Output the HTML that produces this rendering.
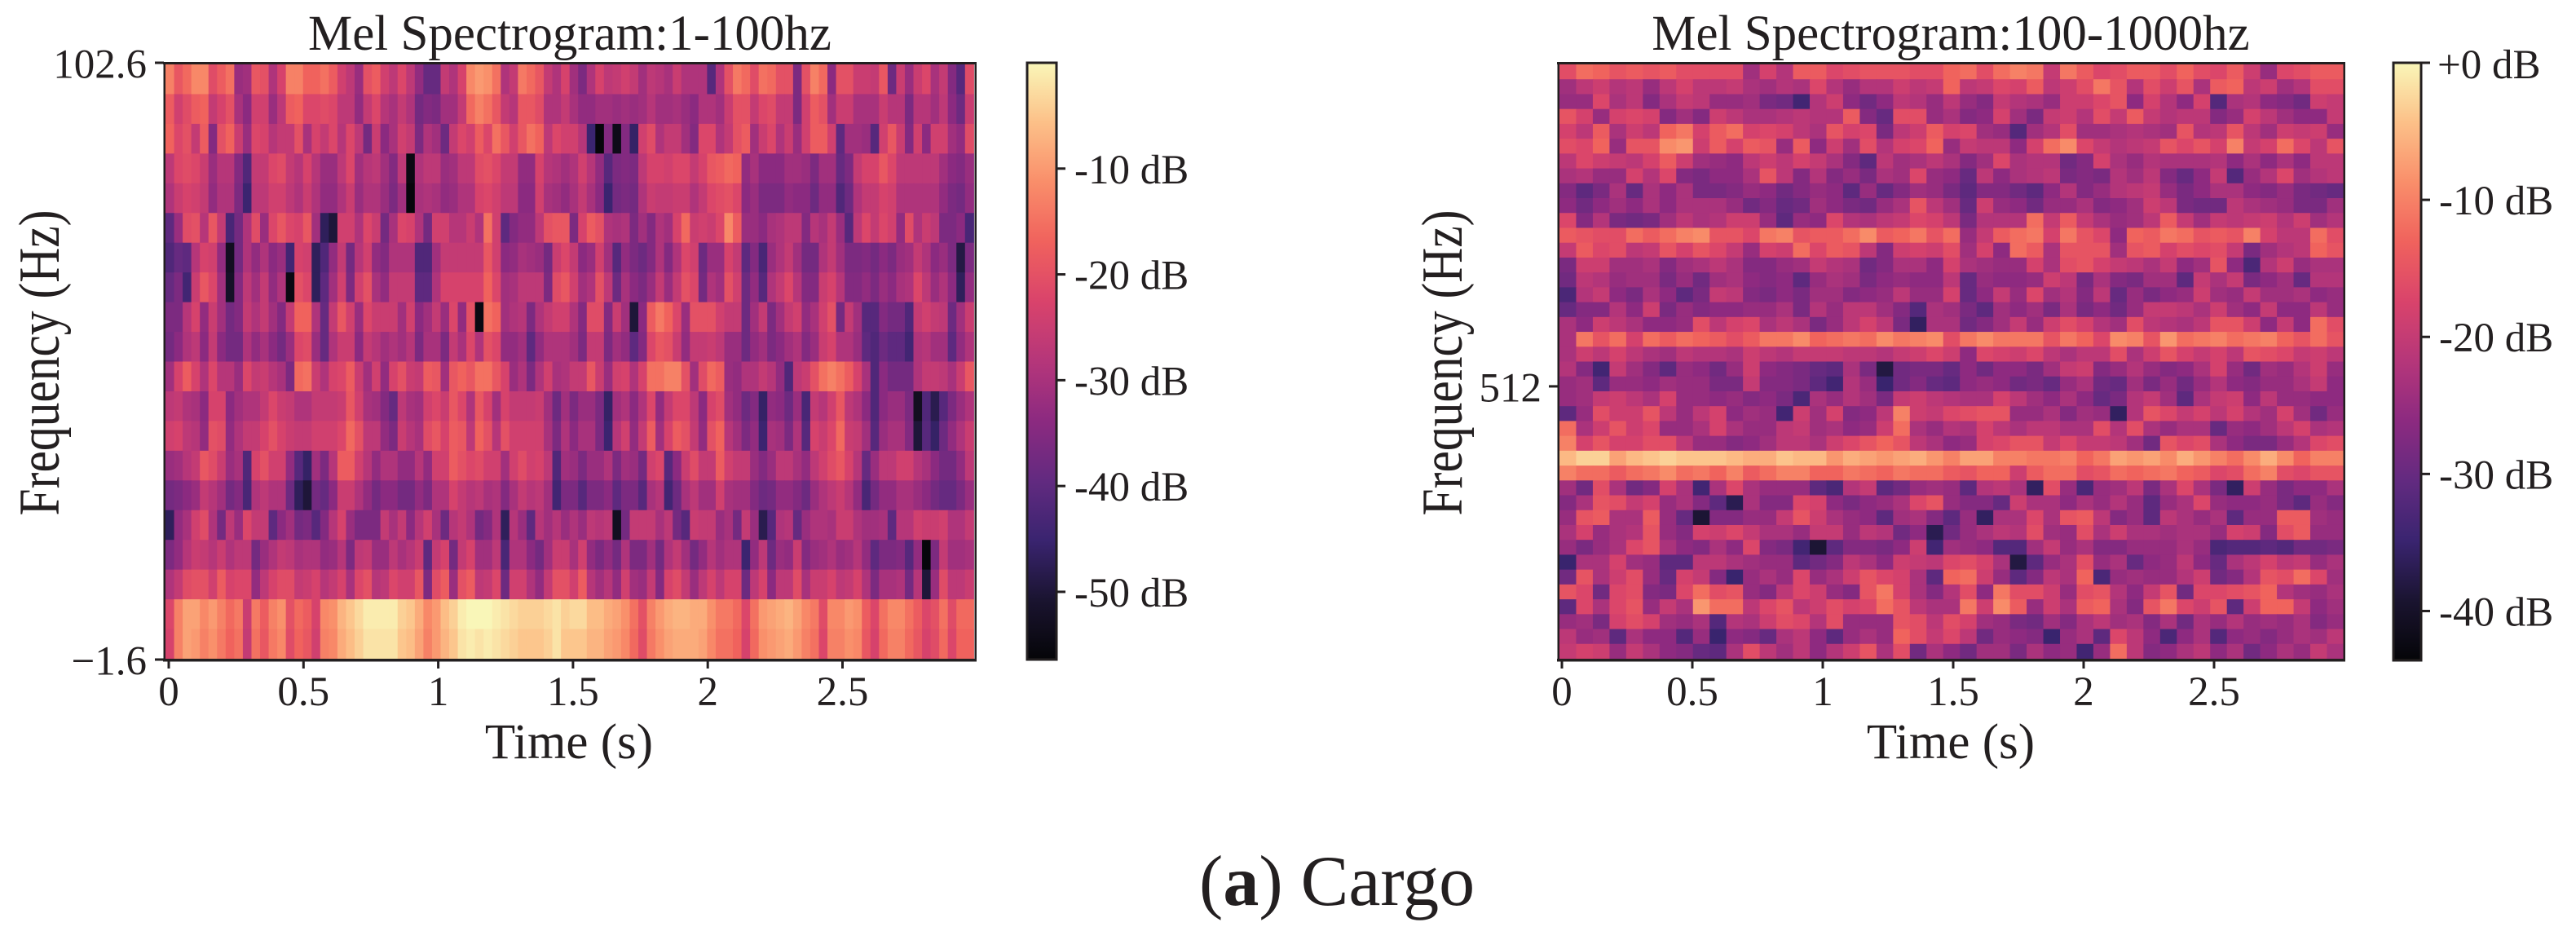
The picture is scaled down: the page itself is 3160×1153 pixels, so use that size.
<!DOCTYPE html>
<html lang="en">
<head>
<meta charset="utf-8">
<title>Mel Spectrogram: Cargo</title>
<style>
html,body{margin:0;padding:0;background:#fff;width:3160px;height:1153px;overflow:hidden}
svg{display:block}
text{font-family:"Liberation Serif","Times New Roman",serif;fill:#231f20}
</style>
</head>
<body>
<svg id="figure" xmlns="http://www.w3.org/2000/svg" width="3160" height="1153" viewBox="0 0 3160 1153">
  <defs>
    <linearGradient id="cbar-gradient" x1="0" y1="1" x2="0" y2="0"></linearGradient>
  </defs>
  <rect x="0" y="0" width="3160" height="1153" fill="#fff"/>
  <g id="low-cells"></g>
  <g id="high-cells"></g>
  <g id="overlay"></g>
  <text x="699" y="61" font-size="61" text-anchor="middle">Mel Spectrogram:1-100hz</text>
  <text x="2393" y="61" font-size="61" text-anchor="middle">Mel Spectrogram:100-1000hz</text>
  <text x="698" y="930" font-size="61" text-anchor="middle">Time (s)</text>
  <text x="2393" y="930" font-size="61" text-anchor="middle">Time (s)</text>
  <text transform="translate(72,445) rotate(-90) scale(1,1.2)" font-size="59.5" text-anchor="middle">Frequency (Hz)</text>
  <text transform="translate(1793,445) rotate(-90) scale(1,1.2)" font-size="59.5" text-anchor="middle">Frequency (Hz)</text>
  <text x="1471" y="1110" font-size="88">(<tspan font-weight="bold">a</tspan>) Cargo</text>
</svg>
<script>
const timeTicks = [0, 0.5, 1, 1.5, 2, 2.5];
const timeTickLabels = ['0', '0.5', '1', '1.5', '2', '2.5'];
const lowFreqTicks = [102.6, -1.6];
const lowFreqTickLabels = ['102.6', '\u22121.6'];
const highFreqTicks = [512];
const highFreqTickLabels = ['512'];
const lowBarTicks = [-10, -20, -30, -40, -50];
const lowBarTickLabels = ['-10 dB', '-20 dB', '-30 dB', '-40 dB', '-50 dB'];
const highBarTicks = [0, -10, -20, -30, -40];
const highBarTickLabels = ['+0 dB', '-10 dB', '-20 dB', '-30 dB', '-40 dB'];
const lowDbRange = [-56.4, 0];
const highDbRange = [-43.6, 0];
const lowFreqRange = [-1.6, 102.6];
const highFreqRange = [100, 1000];
const lowFrameSeconds = 0.0319;
const highFrameSeconds = 0.06396;
const lowBandCalibrationDb = 0;
const highBandCalibrationDb = -1;

const lowBandDb = [
[-13,-19,-16,-12,-12,-21,-18,-15,-32,-31,-19,-20,-29,-23,-13,-13,-17,-17,-15,-18,-24,-27,-32,-20,-18,-24,-27,-22,-27,-33,-39,-39,-26,-29,-23,-12,-10,-11,-15,-29,-26,-14,-16,-19,-26,-29,-23,-31,-36,-29,-23,-27,-26,-24,-26,-31,-27,-28,-30,-25,-29,-29,-29,-41,-29,-20,-14,-16,-21,-15,-16,-20,-20,-36,-20,-13,-16,-34,-20,-20,-25,-25,-26,-19,-38,-25,-32,-25,-22,-30,-26,-35,-41,-21],
[-18,-24,-21,-18,-17,-26,-23,-20,-30,-34,-24,-24,-32,-27,-18,-17,-22,-22,-21,-22,-27,-27,-33,-26,-22,-28,-30,-26,-29,-37,-35,-36,-31,-31,-26,-16,-13,-15,-19,-26,-28,-19,-19,-21,-29,-29,-26,-30,-33,-33,-31,-31,-32,-31,-32,-31,-28,-31,-31,-30,-32,-34,-29,-29,-31,-25,-20,-20,-26,-22,-21,-26,-26,-36,-24,-18,-20,-31,-25,-25,-30,-30,-30,-25,-28,-28,-36,-28,-28,-31,-27,-34,-38,-25],
[-17,-22,-20,-26,-18,-35,-20,-17,-25,-32,-22,-23,-28,-26,-26,-20,-30,-23,-26,-22,-28,-22,-27,-37,-25,-34,-30,-24,-26,-36,-29,-31,-38,-26,-22,-24,-18,-22,-15,-19,-24,-19,-15,-17,-27,-22,-24,-24,-28,-45,-56,-35,-54,-35,-46,-24,-21,-29,-26,-26,-31,-35,-22,-22,-29,-26,-20,-18,-31,-25,-22,-29,-25,-32,-24,-18,-18,-24,-40,-31,-31,-32,-41,-24,-19,-25,-35,-24,-34,-24,-24,-31,-33,-21],
[-27,-22,-21,-22,-25,-32,-28,-28,-35,-42,-26,-26,-22,-21,-26,-28,-23,-28,-32,-32,-27,-22,-31,-28,-27,-31,-35,-27,-55,-29,-27,-27,-32,-31,-27,-27,-21,-20,-22,-26,-26,-33,-33,-23,-28,-29,-31,-29,-24,-28,-33,-41,-36,-35,-36,-27,-23,-23,-24,-22,-22,-26,-23,-19,-18,-16,-17,-33,-30,-34,-34,-34,-31,-31,-32,-36,-31,-31,-39,-36,-26,-23,-23,-19,-22,-27,-27,-27,-27,-27,-31,-34,-35,-32],
[-29,-25,-23,-24,-26,-33,-29,-29,-36,-45,-27,-27,-24,-24,-27,-29,-25,-29,-33,-33,-29,-25,-32,-29,-29,-32,-36,-31,-56,-30,-29,-30,-33,-32,-29,-29,-23,-22,-24,-27,-27,-34,-34,-24,-30,-31,-33,-30,-26,-30,-34,-45,-37,-36,-37,-29,-25,-26,-26,-25,-25,-29,-26,-22,-21,-20,-22,-34,-32,-36,-36,-36,-33,-34,-34,-38,-33,-33,-42,-38,-29,-26,-26,-23,-24,-29,-29,-29,-29,-29,-33,-36,-37,-33],
[-40,-32,-21,-20,-28,-19,-26,-43,-37,-29,-21,-32,-22,-19,-22,-23,-19,-31,-47,-50,-24,-24,-29,-22,-25,-37,-30,-22,-23,-29,-37,-24,-24,-28,-28,-25,-29,-15,-24,-40,-35,-33,-33,-27,-20,-19,-19,-36,-23,-18,-20,-29,-30,-29,-36,-31,-35,-29,-31,-23,-16,-25,-24,-25,-22,-12,-18,-32,-32,-34,-30,-29,-27,-27,-35,-28,-30,-26,-32,-41,-27,-22,-26,-22,-24,-33,-21,-29,-25,-27,-36,-36,-34,-43],
[-42,-39,-40,-28,-23,-24,-33,-53,-37,-29,-33,-29,-34,-32,-44,-23,-24,-47,-42,-33,-26,-37,-28,-24,-33,-35,-29,-29,-29,-42,-42,-31,-26,-26,-26,-26,-26,-19,-24,-34,-33,-30,-31,-32,-37,-25,-22,-26,-34,-32,-24,-31,-41,-33,-36,-38,-35,-29,-35,-29,-22,-24,-38,-32,-32,-23,-26,-40,-35,-43,-32,-29,-26,-31,-37,-37,-29,-26,-31,-36,-36,-35,-37,-34,-36,-32,-31,-26,-29,-34,-32,-36,-49,-36],
[-39,-36,-44,-25,-19,-22,-31,-52,-35,-27,-31,-26,-33,-29,-55,-20,-22,-47,-40,-31,-24,-36,-24,-20,-30,-33,-26,-26,-26,-40,-40,-29,-23,-23,-23,-23,-23,-17,-22,-31,-30,-27,-27,-27,-36,-21,-19,-24,-31,-29,-20,-27,-38,-30,-34,-36,-32,-26,-32,-26,-20,-22,-37,-29,-31,-20,-24,-38,-33,-41,-29,-26,-22,-28,-35,-35,-25,-23,-28,-35,-35,-33,-36,-32,-34,-30,-29,-22,-27,-32,-29,-34,-47,-33],
[-36,-36,-28,-23,-33,-25,-31,-37,-35,-26,-29,-26,-31,-35,-26,-17,-17,-29,-39,-26,-19,-24,-32,-22,-25,-25,-25,-31,-24,-34,-31,-26,-32,-22,-33,-20,-55,-15,-17,-31,-29,-28,-36,-29,-26,-24,-24,-29,-35,-21,-21,-35,-25,-31,-50,-34,-18,-14,-17,-22,-32,-20,-20,-20,-24,-26,-26,-38,-31,-26,-36,-31,-26,-24,-33,-30,-24,-20,-37,-26,-31,-41,-41,-35,-37,-37,-42,-26,-24,-26,-27,-38,-31,-25],
[-37,-34,-29,-27,-34,-26,-34,-37,-37,-29,-33,-30,-34,-37,-32,-22,-21,-32,-39,-29,-25,-25,-34,-26,-28,-31,-29,-31,-28,-36,-30,-30,-36,-26,-30,-22,-29,-20,-22,-33,-33,-31,-40,-33,-29,-29,-29,-31,-36,-26,-26,-36,-31,-33,-40,-35,-22,-19,-20,-25,-33,-26,-26,-25,-27,-32,-32,-38,-33,-31,-36,-34,-31,-29,-35,-32,-25,-23,-29,-29,-32,-40,-42,-38,-40,-40,-44,-29,-28,-31,-31,-40,-33,-29],
[-31,-23,-18,-23,-29,-22,-28,-28,-32,-22,-26,-25,-28,-30,-36,-16,-15,-25,-29,-23,-22,-18,-25,-31,-24,-33,-23,-20,-25,-26,-18,-19,-31,-19,-17,-19,-15,-15,-19,-23,-32,-29,-36,-29,-24,-30,-29,-26,-26,-19,-25,-32,-24,-23,-29,-23,-15,-15,-13,-13,-20,-31,-21,-16,-18,-32,-33,-29,-29,-26,-28,-33,-42,-27,-25,-20,-15,-13,-15,-18,-23,-30,-42,-34,-37,-37,-37,-29,-26,-26,-27,-30,-25,-19],
[-27,-26,-29,-30,-34,-23,-23,-34,-31,-29,-29,-26,-22,-25,-26,-29,-29,-26,-26,-26,-25,-19,-24,-30,-31,-35,-39,-27,-30,-31,-24,-22,-25,-19,-22,-29,-19,-23,-31,-23,-26,-26,-26,-25,-31,-38,-31,-36,-32,-32,-36,-46,-31,-29,-34,-29,-22,-33,-26,-22,-22,-27,-34,-23,-21,-31,-33,-38,-35,-46,-33,-34,-38,-32,-43,-26,-28,-24,-19,-27,-29,-34,-42,-34,-32,-32,-36,-53,-42,-48,-41,-36,-32,-29],
[-24,-23,-27,-28,-33,-20,-21,-33,-29,-26,-26,-23,-20,-23,-25,-26,-26,-24,-24,-24,-22,-16,-20,-27,-27,-33,-36,-25,-28,-30,-21,-19,-23,-18,-19,-27,-17,-20,-28,-20,-24,-24,-24,-24,-30,-36,-29,-34,-30,-30,-36,-45,-28,-24,-33,-26,-18,-31,-23,-18,-20,-26,-33,-20,-17,-28,-31,-36,-33,-45,-30,-31,-36,-29,-41,-23,-25,-22,-16,-25,-26,-31,-41,-32,-30,-30,-35,-50,-41,-46,-38,-33,-29,-25],
[-32,-31,-28,-26,-19,-21,-25,-32,-30,-42,-23,-20,-24,-24,-33,-41,-46,-31,-36,-28,-18,-18,-24,-28,-33,-29,-29,-33,-33,-28,-33,-24,-24,-18,-20,-22,-21,-24,-24,-31,-24,-21,-24,-23,-27,-42,-31,-32,-36,-32,-32,-29,-36,-31,-32,-37,-24,-22,-41,-34,-25,-21,-26,-26,-18,-24,-26,-26,-32,-35,-32,-27,-27,-30,-33,-27,-24,-21,-19,-23,-28,-39,-32,-27,-27,-24,-24,-28,-30,-34,-37,-37,-33,-27],
[-37,-36,-34,-32,-26,-28,-31,-37,-35,-43,-29,-27,-29,-29,-38,-47,-50,-37,-39,-34,-25,-25,-29,-33,-37,-34,-34,-37,-37,-33,-36,-29,-29,-23,-26,-28,-27,-30,-29,-35,-30,-26,-28,-27,-31,-44,-36,-36,-41,-36,-36,-34,-40,-36,-36,-41,-30,-28,-44,-38,-30,-27,-31,-31,-24,-30,-31,-31,-35,-38,-37,-33,-33,-35,-38,-32,-29,-27,-25,-28,-33,-43,-37,-33,-33,-30,-30,-32,-34,-37,-39,-39,-36,-32],
[-47,-33,-30,-24,-21,-29,-37,-27,-32,-22,-26,-26,-40,-34,-31,-37,-36,-41,-35,-28,-23,-32,-36,-36,-36,-26,-30,-26,-34,-28,-24,-30,-38,-28,-26,-29,-37,-35,-29,-47,-28,-32,-40,-28,-31,-28,-32,-29,-32,-27,-28,-27,-53,-37,-26,-26,-26,-30,-27,-37,-41,-25,-26,-26,-32,-30,-37,-26,-32,-48,-41,-29,-28,-39,-32,-29,-29,-30,-25,-25,-29,-31,-31,-30,-40,-28,-28,-24,-25,-25,-24,-29,-29,-26],
[-36,-33,-28,-25,-26,-28,-25,-29,-27,-27,-37,-32,-29,-26,-27,-30,-29,-29,-33,-32,-28,-36,-27,-26,-32,-32,-27,-30,-28,-25,-40,-26,-23,-37,-26,-23,-31,-31,-27,-43,-29,-29,-34,-37,-31,-25,-25,-30,-24,-33,-36,-33,-37,-29,-36,-36,-31,-37,-29,-26,-31,-37,-33,-28,-31,-29,-29,-45,-33,-27,-38,-32,-33,-25,-35,-32,-31,-29,-32,-31,-28,-33,-40,-36,-36,-35,-41,-33,-56,-36,-26,-31,-31,-30],
[-29,-26,-21,-20,-20,-24,-18,-23,-22,-22,-33,-27,-23,-21,-21,-26,-25,-23,-28,-26,-23,-30,-22,-20,-28,-27,-22,-24,-24,-19,-36,-21,-18,-32,-20,-18,-27,-26,-22,-38,-24,-24,-29,-33,-26,-20,-20,-24,-18,-28,-31,-28,-33,-24,-31,-32,-26,-35,-23,-21,-26,-32,-27,-23,-27,-23,-23,-38,-27,-23,-34,-27,-27,-21,-30,-25,-25,-23,-27,-26,-23,-29,-36,-30,-30,-29,-37,-28,-50,-32,-21,-27,-27,-25],
[-22,-13,-9,-9,-12,-10,-13,-16,-14,-25,-14,-18,-13,-11,-20,-16,-18,-23,-12,-11,-7,-5,-3,-1,-1,-1,-1,-4,-5,-8,-12,-10,-6,-4,-1,0,0,0,-1,-2,-3,-4,-4,-4,-3,-2,-4,-3,-3,-6,-6,-8,-9,-11,-15,-20,-13,-10,-8,-7,-7,-8,-8,-11,-14,-14,-16,-22,-15,-10,-9,-8,-7,-9,-12,-14,-21,-12,-12,-10,-11,-18,-22,-15,-12,-12,-15,-18,-22,-20,-15,-21,-16,-16],
[-23,-13,-9,-10,-13,-11,-14,-17,-15,-26,-15,-19,-14,-12,-21,-17,-19,-24,-13,-12,-8,-6,-4,-2,-2,-2,-2,-5,-6,-9,-13,-10,-7,-5,-2,-1,-2,-1,-2,-3,-4,-5,-5,-5,-4,-2,-5,-5,-5,-7,-7,-9,-10,-12,-16,-21,-14,-11,-9,-8,-8,-8,-9,-12,-15,-15,-17,-23,-16,-11,-10,-9,-8,-10,-13,-15,-22,-13,-13,-11,-12,-19,-23,-16,-13,-13,-16,-19,-23,-21,-16,-22,-17,-17]
];

const highBandDb = [
[-15,-11,-12,-14,-13,-14,-13,-15,-15,-15,-15,-23,-17,-21,-13,-13,-16,-15,-14,-14,-14,-15,-15,-12,-11,-15,-11,-9,-10,-19,-10,-13,-16,-15,-13,-13,-15,-12,-15,-16,-13,-18,-24,-16,-15,-13,-13],
[-23,-20,-18,-21,-20,-24,-20,-17,-20,-20,-19,-22,-23,-21,-22,-16,-21,-24,-21,-21,-18,-20,-19,-12,-20,-19,-16,-17,-13,-20,-18,-15,-10,-14,-21,-15,-18,-14,-22,-13,-12,-20,-18,-23,-21,-15,-15],
[-24,-24,-16,-22,-20,-26,-22,-19,-20,-24,-24,-23,-27,-28,-33,-21,-18,-25,-28,-25,-20,-21,-24,-20,-24,-26,-19,-21,-22,-24,-18,-18,-16,-14,-25,-17,-21,-25,-17,-31,-22,-21,-25,-26,-28,-18,-19],
[-14,-17,-24,-17,-16,-17,-26,-23,-26,-18,-20,-22,-22,-21,-20,-21,-21,-13,-26,-29,-15,-15,-24,-22,-26,-25,-17,-23,-27,-19,-18,-21,-15,-19,-13,-19,-21,-20,-20,-26,-24,-17,-20,-23,-25,-25,-19],
[-17,-20,-13,-22,-18,-20,-12,-10,-17,-13,-11,-17,-16,-17,-20,-22,-14,-17,-16,-27,-20,-18,-13,-17,-16,-23,-24,-31,-23,-21,-15,-23,-23,-22,-21,-22,-23,-14,-21,-20,-14,-20,-23,-18,-19,-18,-24],
[-15,-16,-12,-24,-14,-14,-8,-7,-18,-13,-17,-13,-14,-24,-13,-25,-18,-23,-15,-21,-17,-16,-12,-24,-19,-20,-20,-25,-17,-11,-8,-16,-19,-21,-20,-19,-14,-16,-14,-17,-9,-19,-17,-11,-16,-20,-14],
[-20,-16,-18,-19,-20,-17,-13,-18,-23,-24,-25,-20,-18,-20,-17,-19,-22,-26,-30,-20,-23,-22,-20,-22,-26,-23,-16,-22,-21,-21,-28,-26,-17,-22,-24,-21,-22,-22,-22,-21,-25,-22,-25,-22,-25,-20,-20],
[-22,-21,-24,-24,-17,-21,-16,-26,-27,-25,-25,-22,-14,-20,-26,-21,-26,-24,-27,-22,-23,-16,-24,-25,-29,-20,-25,-22,-21,-20,-27,-26,-27,-21,-23,-20,-26,-29,-25,-19,-31,-24,-21,-16,-23,-21,-20],
[-26,-30,-27,-22,-29,-22,-25,-22,-27,-27,-26,-24,-25,-28,-26,-24,-25,-30,-24,-29,-26,-23,-24,-27,-30,-26,-26,-28,-30,-25,-21,-26,-24,-21,-20,-19,-24,-27,-25,-22,-22,-25,-26,-24,-27,-28,-29],
[-25,-28,-25,-23,-25,-22,-25,-22,-22,-22,-24,-28,-26,-29,-28,-23,-25,-27,-28,-24,-22,-14,-20,-23,-29,-18,-24,-25,-28,-24,-24,-22,-26,-25,-23,-18,-20,-27,-28,-28,-20,-22,-23,-24,-27,-27,-23],
[-16,-26,-21,-27,-28,-27,-23,-20,-22,-21,-18,-18,-24,-30,-24,-25,-16,-21,-22,-20,-19,-16,-17,-20,-27,-21,-21,-21,-11,-19,-13,-19,-22,-24,-23,-20,-13,-19,-23,-19,-20,-19,-18,-21,-18,-23,-21],
[-13,-14,-15,-15,-11,-13,-11,-9,-8,-14,-14,-16,-10,-9,-14,-13,-13,-11,-8,-13,-12,-10,-14,-11,-24,-19,-13,-11,-10,-17,-10,-14,-16,-25,-12,-13,-10,-11,-14,-13,-14,-9,-17,-20,-20,-11,-15],
[-19,-13,-16,-15,-20,-19,-14,-17,-14,-16,-19,-24,-17,-18,-11,-16,-13,-14,-20,-26,-18,-17,-18,-15,-23,-17,-25,-11,-13,-22,-14,-14,-14,-23,-14,-13,-17,-15,-16,-15,-19,-27,-23,-21,-20,-12,-14],
[-27,-18,-18,-23,-23,-22,-26,-23,-22,-20,-22,-26,-26,-24,-23,-19,-21,-22,-28,-26,-22,-22,-25,-17,-22,-23,-24,-24,-17,-22,-15,-14,-17,-19,-20,-22,-19,-25,-23,-14,-25,-32,-21,-18,-24,-22,-22],
[-28,-20,-21,-24,-23,-23,-27,-24,-28,-23,-22,-25,-26,-25,-30,-24,-22,-23,-27,-25,-24,-25,-25,-20,-29,-24,-25,-25,-24,-18,-20,-27,-22,-26,-27,-23,-23,-30,-19,-22,-19,-27,-25,-23,-29,-21,-21],
[-32,-21,-19,-25,-27,-22,-25,-30,-27,-19,-20,-26,-27,-25,-27,-23,-23,-26,-25,-24,-20,-24,-24,-17,-29,-25,-19,-24,-16,-23,-21,-26,-20,-29,-24,-27,-25,-24,-18,-23,-24,-19,-23,-23,-22,-25,-24],
[-29,-26,-26,-21,-25,-18,-27,-24,-26,-25,-25,-24,-24,-22,-27,-21,-24,-20,-20,-23,-26,-31,-22,-23,-27,-30,-23,-25,-23,-27,-22,-27,-25,-28,-24,-19,-19,-20,-22,-18,-23,-25,-19,-25,-25,-20,-24],
[-22,-25,-18,-20,-22,-25,-25,-24,-15,-20,-17,-16,-22,-20,-22,-27,-24,-20,-17,-20,-27,-35,-22,-22,-28,-26,-23,-19,-24,-18,-15,-17,-21,-23,-15,-20,-21,-22,-20,-14,-14,-18,-25,-19,-25,-11,-15],
[-22,-10,-14,-11,-17,-11,-13,-11,-12,-13,-15,-13,-10,-10,-8,-12,-11,-10,-11,-8,-10,-9,-8,-15,-10,-8,-10,-10,-10,-14,-10,-12,-16,-8,-9,-14,-7,-11,-10,-9,-11,-10,-9,-12,-14,-11,-14],
[-22,-18,-20,-17,-20,-22,-23,-20,-21,-21,-22,-18,-20,-21,-19,-19,-19,-20,-20,-21,-19,-18,-16,-18,-25,-16,-17,-18,-16,-20,-22,-20,-20,-15,-22,-18,-14,-17,-19,-17,-20,-14,-15,-16,-19,-18,-20],
[-21,-26,-33,-19,-23,-26,-30,-24,-25,-28,-24,-18,-25,-26,-27,-29,-30,-22,-27,-37,-28,-27,-27,-29,-25,-28,-25,-25,-27,-23,-19,-18,-26,-24,-21,-24,-26,-25,-22,-17,-24,-28,-23,-24,-21,-18,-24],
[-24,-23,-30,-24,-24,-25,-23,-24,-24,-27,-27,-19,-26,-26,-27,-30,-33,-21,-24,-34,-28,-26,-29,-30,-25,-24,-25,-28,-27,-29,-24,-22,-28,-29,-23,-27,-24,-28,-24,-21,-25,-26,-24,-24,-22,-19,-25],
[-24,-23,-19,-18,-20,-22,-17,-24,-24,-25,-24,-26,-25,-27,-32,-22,-24,-21,-23,-27,-19,-18,-20,-21,-22,-22,-17,-20,-23,-25,-22,-25,-29,-27,-21,-19,-23,-30,-22,-19,-18,-25,-20,-24,-24,-25,-25],
[-30,-24,-15,-18,-18,-14,-20,-24,-20,-17,-25,-23,-24,-33,-18,-23,-17,-26,-25,-20,-9,-18,-19,-16,-15,-14,-14,-24,-24,-22,-26,-23,-24,-35,-21,-14,-16,-19,-17,-20,-17,-21,-23,-17,-23,-28,-24],
[-11,-22,-18,-14,-18,-16,-24,-24,-22,-17,-22,-24,-24,-20,-19,-23,-22,-25,-24,-18,-11,-22,-24,-21,-22,-17,-20,-22,-20,-20,-22,-22,-15,-21,-15,-22,-24,-22,-22,-29,-24,-25,-23,-20,-17,-22,-21],
[-9,-17,-14,-17,-17,-15,-15,-20,-24,-24,-26,-25,-23,-20,-20,-22,-18,-16,-14,-12,-14,-20,-22,-25,-24,-17,-16,-14,-14,-19,-16,-19,-19,-20,-23,-28,-14,-16,-15,-22,-25,-27,-27,-24,-21,-16,-15],
[-4,-2,-2,-6,-4,-3,-2,-3,-3,-3,-4,-5,-5,-3,-4,-4,-7,-5,-6,-7,-6,-5,-7,-9,-6,-6,-9,-9,-10,-10,-9,-12,-10,-6,-7,-6,-8,-5,-7,-9,-11,-8,-5,-8,-12,-9,-9],
[-9,-11,-11,-13,-11,-10,-8,-11,-10,-12,-9,-13,-11,-9,-9,-12,-12,-10,-11,-12,-10,-11,-11,-13,-14,-12,-12,-18,-13,-11,-11,-15,-14,-11,-12,-11,-10,-12,-13,-16,-15,-11,-9,-15,-16,-14,-14],
[-23,-28,-15,-22,-28,-26,-17,-22,-33,-22,-16,-22,-24,-24,-24,-30,-32,-21,-19,-30,-28,-24,-23,-24,-30,-21,-20,-22,-35,-15,-24,-32,-24,-23,-20,-27,-22,-16,-22,-27,-35,-18,-24,-27,-25,-25,-22],
[-26,-22,-14,-15,-19,-17,-24,-22,-26,-30,-36,-22,-26,-26,-16,-17,-25,-27,-25,-24,-22,-16,-14,-24,-26,-26,-29,-18,-22,-22,-25,-22,-24,-21,-24,-30,-24,-22,-16,-24,-25,-25,-24,-27,-30,-24,-26],
[-24,-14,-13,-22,-22,-13,-24,-29,-38,-26,-26,-24,-24,-19,-14,-18,-22,-24,-25,-30,-23,-22,-26,-30,-24,-35,-22,-22,-16,-22,-14,-13,-20,-26,-24,-30,-20,-22,-24,-22,-30,-24,-24,-13,-13,-23,-24],
[-22,-17,-24,-22,-21,-14,-24,-26,-17,-18,-16,-19,-22,-22,-24,-19,-19,-24,-20,-21,-28,-25,-36,-28,-24,-22,-20,-21,-15,-23,-24,-15,-22,-18,-22,-22,-23,-22,-22,-24,-17,-18,-26,-15,-13,-24,-24],
[-24,-27,-24,-22,-16,-14,-22,-25,-26,-22,-25,-16,-26,-27,-33,-38,-30,-26,-26,-27,-25,-18,-33,-23,-24,-25,-31,-31,-23,-19,-24,-22,-26,-26,-24,-24,-24,-22,-24,-32,-31,-31,-30,-31,-28,-28,-27],
[-34,-22,-22,-17,-23,-24,-30,-30,-20,-20,-22,-23,-24,-24,-30,-28,-26,-20,-22,-25,-18,-19,-20,-16,-15,-17,-22,-37,-30,-24,-22,-15,-24,-22,-29,-25,-24,-20,-25,-29,-22,-20,-17,-20,-19,-24,-22],
[-28,-14,-22,-18,-15,-24,-29,-17,-19,-26,-34,-24,-22,-24,-16,-24,-22,-18,-14,-16,-17,-22,-30,-12,-11,-18,-24,-30,-26,-20,-22,-12,-32,-24,-23,-24,-24,-21,-18,-28,-26,-21,-14,-15,-11,-16,-23],
[-14,-16,-28,-16,-15,-26,-27,-16,-11,-15,-14,-24,-26,-20,-16,-18,-24,-26,-14,-10,-17,-22,-26,-21,-15,-25,-10,-15,-15,-18,-24,-15,-14,-21,-25,-19,-14,-28,-16,-16,-15,-14,-12,-21,-23,-24,-22],
[-30,-16,-22,-16,-14,-24,-19,-22,-7,-11,-11,-20,-16,-14,-20,-18,-15,-17,-16,-11,-14,-20,-22,-22,-10,-18,-8,-13,-24,-18,-22,-13,-12,-22,-26,-14,-10,-16,-18,-14,-30,-18,-12,-12,-19,-25,-23],
[-24,-23,-27,-17,-15,-17,-23,-24,-22,-31,-21,-22,-18,-15,-16,-21,-15,-24,-24,-24,-14,-15,-20,-15,-17,-23,-24,-27,-28,-23,-26,-22,-20,-23,-22,-26,-22,-28,-22,-24,-21,-24,-23,-24,-22,-26,-24],
[-20,-24,-23,-30,-22,-25,-25,-31,-24,-34,-25,-26,-29,-22,-20,-25,-30,-24,-22,-24,-12,-15,-19,-16,-20,-28,-24,-25,-26,-34,-24,-22,-30,-16,-20,-25,-32,-25,-22,-31,-25,-24,-26,-24,-22,-23,-20],
[-19,-17,-18,-24,-19,-22,-25,-26,-29,-30,-22,-15,-20,-23,-20,-25,-21,-18,-14,-22,-15,-28,-22,-25,-28,-23,-23,-27,-22,-25,-24,-33,-24,-11,-20,-26,-25,-22,-20,-25,-22,-28,-25,-22,-24,-19,-22]
];

const SVG_NS = 'http://www.w3.org/2000/svg';
const INK = '#231f20';
const colormapStops = ['#050508', '#1a1430', '#3a2470', '#622a80', '#8c2a80', '#b5367a', '#d9436b', '#f0625d', '#f98e6a', '#fcc088', '#f9f6b8'];

function hexChannel(hex, i) {
  return parseInt(hex.substr(1 + i * 2, 2), 16);
}
function colormap(t) {
  const clamped = Math.max(0, Math.min(1, t));
  const scaled = clamped * (colormapStops.length - 1);
  const i = Math.min(colormapStops.length - 2, Math.floor(scaled));
  const f = scaled - i;
  const parts = [0, 1, 2].map(c => Math.round(hexChannel(colormapStops[i], c) * (1 - f) + hexChannel(colormapStops[i + 1], c) * f));
  return 'rgb(' + parts.join(',') + ')';
}
function svgEl(tag, attrs) {
  const el = document.createElementNS(SVG_NS, tag);
  Object.keys(attrs).forEach(k => el.setAttribute(k, attrs[k]));
  return el;
}

const panels = [
  { key: 'low', rows: lowBandDb, frame: lowFrameSeconds, db: lowDbRange, freq: lowFreqRange, calibration: lowBandCalibrationDb,
    left: 203, right: 1196, top: 79, bottom: 808, zeroX: 207, pxPerSec: 330.6, axisTop: 77, axisBottom: 809,
    tickEndX: 201, labelEndX: 180, freqTicks: lowFreqTicks, freqLabels: lowFreqTickLabels,
    barX: 1260, barW: 36, barTop: 77, barBottom: 809, barLabelX: 1318,
    barTicks: lowBarTicks, barLabels: lowBarTickLabels, target: 'low-cells' },
  { key: 'high', rows: highBandDb, frame: highFrameSeconds, db: highDbRange, freq: highFreqRange, calibration: highBandCalibrationDb,
    left: 1913, right: 2875, top: 79, bottom: 808, zeroX: 1916, pxPerSec: 320, axisTop: 77, axisBottom: 809,
    tickEndX: 1911, labelEndX: 1891, freqTicks: highFreqTicks, freqLabels: highFreqTickLabels,
    barX: 2936, barW: 34, barTop: 77, barBottom: 810, barLabelX: 2992,
    barTicks: highBarTicks, barLabels: highBarTickLabels, target: 'high-cells' }
];

const overlay = document.getElementById('overlay');
const gradient = document.getElementById('cbar-gradient');
for (let i = 0; i <= 40; i++) {
  gradient.appendChild(svgEl('stop', { offset: (i / 40), 'stop-color': colormap(i / 40) }));
}

panels.forEach(p => {
  const xScale = t => p.zeroX + t * p.pxPerSec;
  const startTime = (p.left - p.zeroX) / p.pxPerSec;
  const rowCount = p.rows.length;
  const yRow = r => p.top + (p.bottom - p.top) * r / rowCount;
  const yFreq = f => p.axisBottom - (f - p.freq[0]) / (p.freq[1] - p.freq[0]) * (p.axisBottom - p.axisTop);
  const normDb = d => (d - p.db[0]) / (p.db[1] - p.db[0]);
  const yBar = d => p.barBottom - normDb(d) * (p.barBottom - p.barTop);
  const cellGroup = document.getElementById(p.target);

  p.rows.forEach((row, r) => {
    row.forEach((value, c) => {
      const x0 = xScale(startTime + c * p.frame);
      const x1 = xScale(startTime + (c + 1) * p.frame);
      const y0 = yRow(r);
      const y1 = yRow(r + 1);
      const cell = svgEl('rect', { x: x0.toFixed(2), y: y0.toFixed(2), width: (x1 - x0 + 0.6).toFixed(2), height: (y1 - y0 + 0.6).toFixed(2), fill: colormap(normDb(value + p.calibration)) });
      
      
      cellGroup.appendChild(cell);
    });
  });

  const frameTop = svgEl('rect', { x: p.left - 3, y: p.axisTop - 1, width: p.right - p.left + 5, height: 3, fill: INK });
  
  
  overlay.appendChild(frameTop);

  const frameBottom = svgEl('rect', { x: p.left - 3, y: p.axisBottom - 1, width: p.right - p.left + 5, height: 3.5, fill: INK });
  
  
  overlay.appendChild(frameBottom);

  const frameLeft = svgEl('rect', { x: p.left - 2.5, y: p.axisTop - 1, width: 2.5, height: p.axisBottom - p.axisTop + 3, fill: INK });
  
  
  overlay.appendChild(frameLeft);

  const frameRight = svgEl('rect', { x: p.right - 0.5, y: p.axisTop - 1, width: 2.5, height: p.axisBottom - p.axisTop + 3, fill: INK });
  
  
  overlay.appendChild(frameRight);

  timeTicks.forEach((t, i) => {
    const mark = svgEl('rect', { x: xScale(t) - 1.5, y: p.axisBottom + 1, width: 3, height: 10, fill: INK });
    
    
    overlay.appendChild(mark);
    const label = svgEl('text', { x: xScale(t), y: 865, 'font-size': 51, 'text-anchor': 'middle' });
    label.textContent = timeTickLabels[i];
    
    
    overlay.appendChild(label);
  });

  p.freqTicks.forEach((f, i) => {
    const y = yFreq(f);
    const mark = svgEl('rect', { x: p.tickEndX - 11, y: y - 1.5, width: 11, height: 3, fill: INK });
    
    
    overlay.appendChild(mark);
    const label = svgEl('text', { x: p.labelEndX, y: y + 18.5, 'font-size': 51, 'text-anchor': 'end' });
    label.textContent = p.freqLabels[i];
    
    
    overlay.appendChild(label);
  });

  const bar = svgEl('rect', { x: p.barX, y: p.barTop, width: p.barW, height: p.barBottom - p.barTop, fill: 'url(#cbar-gradient)', stroke: INK, 'stroke-width': 3 });
  
  
  overlay.appendChild(bar);

  p.barTicks.forEach((d, i) => {
    const y = yBar(d);
    const mark = svgEl('rect', { x: p.barX + p.barW + 1, y: y - 1.5, width: 10, height: 3, fill: INK });
    
    
    overlay.appendChild(mark);
    const label = svgEl('text', { x: d === 0 ? p.barLabelX - 2 : p.barLabelX, y: y + (d === 0 ? 19 : 18), 'font-size': 51 });
    label.textContent = p.barLabels[i];
    
    
    overlay.appendChild(label);
  });
});
</script>
</body>
</html>
